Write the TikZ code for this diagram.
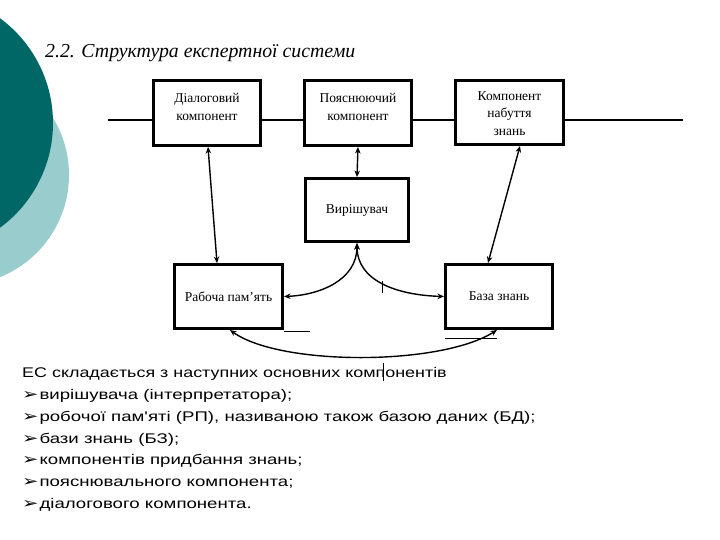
\documentclass[tikz,border=0pt]{standalone}
\usepackage{fontspec}
\setmainfont{Liberation Serif}
\newfontfamily\arialf[FakeStretch=1.33]{Liberation Sans}
\newfontfamily\arialg[FakeStretch=1.28]{Liberation Sans}
\newfontfamily\dejavuf[FakeStretch=1.3]{DejaVu Sans}
\usetikzlibrary{arrows.meta}
\definecolor{darkteal}{RGB}{0,102,102}
\definecolor{lightteal}{RGB}{153,204,204}
\newcommand{\bulmark}{{\dejavuf\fontsize{15}{15}\selectfont ➢}\hspace{1pt}}
\begin{document}
\begin{tikzpicture}[x=1pt,y=-1pt,
  box/.style={draw=black,line width=3pt,fill=white,inner sep=0pt},
  boxtext/.style={inner sep=0pt,align=center,font=\fontsize{13.5}{17.5}\selectfont},
  conn/.style={line width=1.4pt},
  dbl/.style={conn,{Stealth[length=6.5pt,width=5.5pt]}-{Stealth[length=6.5pt,width=5.5pt]}},
  thin/.style={line width=0.9pt},
  bul/.style={anchor=base west,inner sep=0pt,font=\arialf\fontsize{14}{17}\selectfont}]
\useasboundingbox (0,0) rectangle (720,540);
\fill[white] (0,0) rectangle (720,540);
% decorative circles
\fill[lightteal] (-41,175) circle (110);
\fill[darkteal] (-77,123) circle (130);
% title
\node[anchor=base west,inner sep=0pt,font=\itshape\fontsize{19.8}{22}\selectfont] (title) at (45,58) {2.2. Структура експертної системи};
% boxes
\node[box,minimum width=107pt,minimum height=65pt] (dial) at (207,113) {};
\node[box,minimum width=107pt,minimum height=65pt] (poy) at (358,113) {};
\node[box,minimum width=108pt,minimum height=64pt] (nab) at (509.5,112.5) {};
\node[box,minimum width=103pt,minimum height=63pt] (vyr) at (357,210) {};
\node[box,minimum width=108pt,minimum height=64pt] (rob) at (228.5,296.5) {};
\node[box,minimum width=107pt,minimum height=64pt] (baza) at (499,296.5) {};
\node[boxtext] (dialt) at ([yshift=6pt]dial.center) {Діалоговий\\компонент};
\node[boxtext] (poyt) at ([yshift=6pt]poy.center) {Пояснюючий\\компонент};
\node[boxtext] (nabt) at ([yshift=-1pt]nab.center) {Компонент\\набуття\\знань};
\node[boxtext] (vyrt) at (vyr.center) {Вирішувач};
\node[boxtext] (robt) at (rob.center) {Рабоча пам’ять};
\node[boxtext] (bazat) at (baza.center) {База знань};
% horizontal line
\coordinate (L) at (108,120);
\coordinate (R) at (683,120);
\draw[conn] (L) -- (L -| dial.west);
\draw[conn] (L -| dial.east) -- (L -| poy.west);
\draw[conn] (L -| poy.east) -- (L -| nab.west);
\draw[conn] (L -| nab.east) -- (R);
% arrows
\draw[dbl] ([xshift=1pt]dial.south) -- ([xshift=-11.5pt]rob.north);
\draw[dbl] (poy.south) -- (vyr.north);
\draw[dbl] ([xshift=10.5pt]nab.south) -- ([xshift=-11pt]baza.north);
\draw[dbl] (rob.east) .. controls (320,295) and (357,280) .. (vyr.south);
\draw[dbl] (vyr.south) .. controls (357,280) and (395,295) .. (baza.west);
\draw[dbl] ([xshift=1.5pt]rob.south) .. controls (280,366) and (440,366) .. ([xshift=-2pt]baza.south);
% stray lines
\coordinate (s1) at (284,331); \coordinate (s2) at (310,331);
\draw[thin] (s1) -- (s2);
\coordinate (s3) at (445,338); \coordinate (s4) at (497,338);
\draw[thin] (s3) -- (s4);
\coordinate (t1) at (382,281); \coordinate (t2) at (382,293);
\draw[thin] (t1) -- (t2);
% text
\node[bul,font=\arialg\fontsize{14}{17}\selectfont] (l1) at (22,377) {ЕС складається з наступних основних компонентів};
\coordinate (t3) at (383,363); \coordinate (t4) at (383,381);
\draw[thin] (t3) -- (t4);
\node[bul] (l2) at (22,399) {\bulmark вирішувача (інтерпретатора);};
\node[bul] (l3) at (22,421) {\bulmark робочої пам'яті (РП), називаною також базою даних (БД);};
\node[bul] (l4) at (22,443) {\bulmark бази знань (БЗ);};
\node[bul] (l5) at (22,464) {\bulmark компонентів придбання знань;};
\node[bul] (l6) at (22,486) {\bulmark пояснювального компонента;};
\node[bul] (l7) at (22,508) {\bulmark діалогового компонента.};
\end{tikzpicture}
\end{document}
